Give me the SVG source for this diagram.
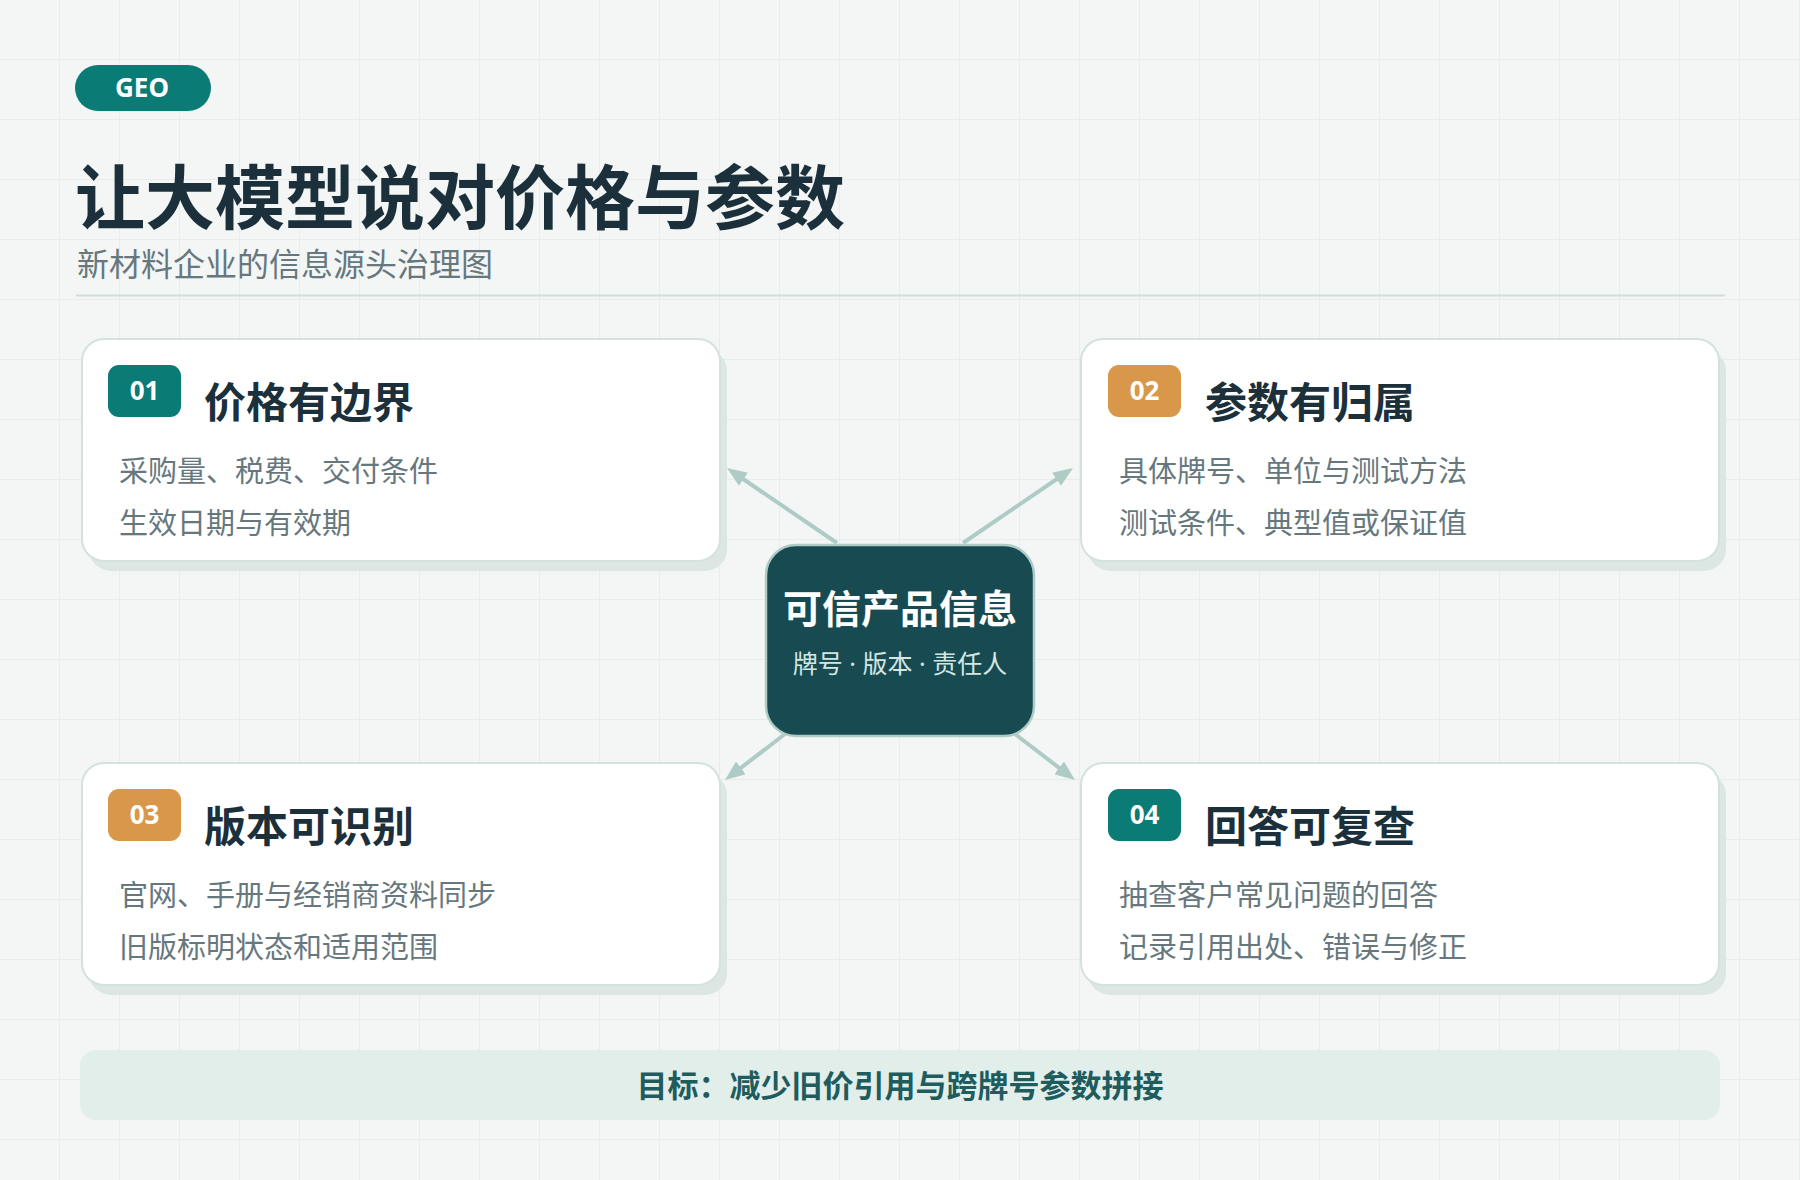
<svg xmlns="http://www.w3.org/2000/svg" width="1800" height="1180" viewBox="0 0 1800 1180">
<defs>
<pattern id="grid" width="60" height="60" patternUnits="userSpaceOnUse">
<path d="M60 0 V60 M0 60 H60" fill="none" stroke="#e6edeb" stroke-width="2"/>
</pattern>
<marker id="ah" viewBox="0 0 20 16" refX="4" refY="8" markerWidth="20" markerHeight="16" markerUnits="userSpaceOnUse" orient="auto">
<path d="M0,0 L20,8 L0,16 z" fill="#aecbc6"/>
</marker>
<style>
text{font-family:"Noto Sans CJK SC","Noto Sans",sans-serif}
.shadow{fill:#dce7e4}
.card{fill:#ffffff;stroke:#d3e2de;stroke-width:2}
.badge{font-family:"Noto Sans","Noto Sans CJK SC",sans-serif;font-size:26px;font-weight:700;fill:#ffffff;text-anchor:middle}
.teal{fill:#0b7b76}
.orange{fill:#d9974a}
.ctitle{font-size:42px;font-weight:700;fill:#1b303a}
.body{font-size:29px;fill:#66787e}
.conn{stroke:#aecbc6;stroke-width:4;fill:none;marker-end:url(#ah)}
</style>
</defs>
<rect width="1800" height="1180" fill="#f3f6f5"/>
<rect width="1800" height="1180" fill="url(#grid)"/>

<g id="header">
<rect x="75" y="65" width="136" height="46" rx="23" fill="#0b7b76"/>
<text x="142" y="97" class="badge">GEO</text>
<text x="75" y="224" font-size="70" font-weight="700" fill="#1b303a">让大模型说对价格与参数</text>
<text x="77" y="276" font-size="32" fill="#66787e">新材料企业的信息源头治理图</text>
<line x1="76" y1="295.5" x2="1725" y2="295.5" stroke="#cfdedb" stroke-width="2"/>
</g>

<g id="card1">
<rect x="89" y="349" width="638" height="222" rx="22" class="shadow"/>
<rect x="82" y="339" width="638" height="222" rx="22" class="card"/>
<rect x="108" y="365" width="73" height="52" rx="11" class="teal"/>
<text x="144.5" y="400" class="badge">01</text>
<text x="204" y="418" class="ctitle">价格有边界</text>
<text x="119" y="482" class="body">采购量、税费、交付条件</text>
<text x="119" y="534" class="body">生效日期与有效期</text>
</g>

<g id="card2">
<rect x="1088" y="349" width="638" height="222" rx="22" class="shadow"/>
<rect x="1081" y="339" width="638" height="222" rx="22" class="card"/>
<rect x="1108" y="365" width="73" height="52" rx="11" class="orange"/>
<text x="1144.5" y="400" class="badge">02</text>
<text x="1205" y="418" class="ctitle">参数有归属</text>
<text x="1119" y="482" class="body">具体牌号、单位与测试方法</text>
<text x="1119" y="534" class="body">测试条件、典型值或保证值</text>
</g>

<g id="card3">
<rect x="89" y="773" width="638" height="222" rx="22" class="shadow"/>
<rect x="82" y="763" width="638" height="222" rx="22" class="card"/>
<rect x="108" y="789" width="73" height="52" rx="11" class="orange"/>
<text x="144.5" y="824" class="badge">03</text>
<text x="204" y="842" class="ctitle">版本可识别</text>
<text x="119" y="906" class="body">官网、手册与经销商资料同步</text>
<text x="119" y="958" class="body">旧版标明状态和适用范围</text>
</g>

<g id="card4">
<rect x="1088" y="773" width="638" height="222" rx="22" class="shadow"/>
<rect x="1081" y="763" width="638" height="222" rx="22" class="card"/>
<rect x="1108" y="789" width="73" height="52" rx="11" class="teal"/>
<text x="1144.5" y="824" class="badge">04</text>
<text x="1205" y="842" class="ctitle">回答可复查</text>
<text x="1119" y="906" class="body">抽查客户常见问题的回答</text>
<text x="1119" y="958" class="body">记录引用出处、错误与修正</text>
</g>

<g id="connectors">
<line x1="837" y1="543" x2="740.2" y2="477" class="conn"/>
<line x1="963" y1="543" x2="1059.8" y2="477" class="conn"/>
<line x1="785" y1="734" x2="737.7" y2="770.3" class="conn"/>
<line x1="1015" y1="734" x2="1062.3" y2="770.3" class="conn"/>
</g>

<g id="center">
<rect x="766" y="545" width="268" height="191" rx="30" fill="#184b51" stroke="#aecbc6" stroke-width="2.5"/>
<text x="900" y="623" font-size="39" font-weight="700" fill="#ffffff" text-anchor="middle">可信产品信息</text>
<text x="900" y="673" font-size="25" fill="#d3e6e2" text-anchor="middle" style="font-family:'Noto Sans','Noto Sans CJK SC',sans-serif">牌号 · 版本 · 责任人</text>
</g>

<g id="goal">
<rect x="80" y="1050" width="1640" height="70" rx="16" fill="#e2eeea"/>
<text x="900" y="1097" font-size="31" font-weight="700" fill="#1e5c5e" text-anchor="middle">目标：减少旧价引用与跨牌号参数拼接</text>
</g>
</svg>
